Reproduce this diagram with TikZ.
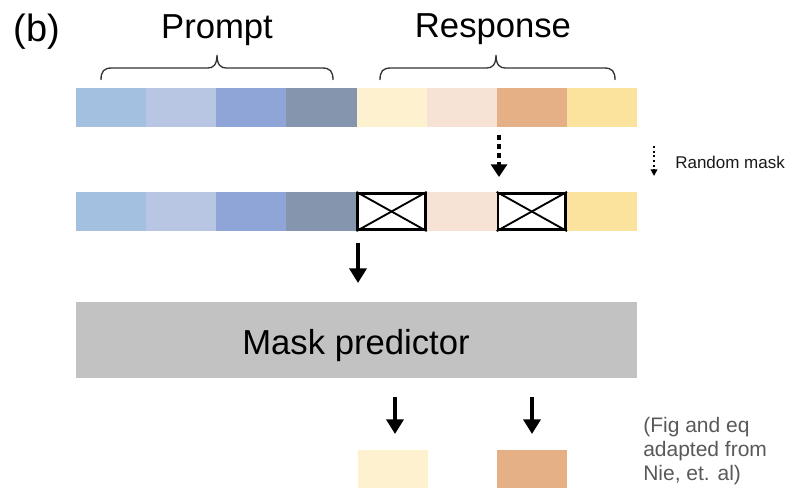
\documentclass[tikz,border=0pt]{standalone}
\usepackage{fontspec}
\setmainfont{Liberation Sans}
\usetikzlibrary{arrows.meta,calc}
\definecolor{pA}{HTML}{A3C0E1}
\definecolor{pB}{HTML}{B8C5E3}
\definecolor{pC}{HTML}{90A5D7}
\definecolor{pD}{HTML}{8695AE}
\definecolor{rA}{HTML}{FDF1D0}
\definecolor{rB}{HTML}{F7E3D6}
\definecolor{rC}{HTML}{E6B086}
\definecolor{rD}{HTML}{FBE29D}
\definecolor{mpgray}{HTML}{C2C2C2}
\definecolor{captgray}{HTML}{595959}
\definecolor{braceink}{HTML}{333333}
\tikzset{
  cell/.style={inner sep=0pt, minimum width=52.59pt, minimum height=29.25pt, draw=none},
  maskcell/.style={inner sep=0pt, minimum width=50.6pt, minimum height=27.3pt, fill=white, draw=black, line width=2.1pt},
  xline/.style={line width=1.4pt, black},
  arr/.style={line width=2.7pt, -{Triangle[width=12.75pt,length=11pt]}},
  dotarr/.style={line width=3pt, dash pattern=on 3.75pt off 3pt, -{Triangle[width=12pt,length=9.5pt]}},
  legarr/.style={line width=1.1pt, dash pattern=on 1.5pt off 2pt, -{Triangle[width=5pt,length=5pt]}},
  bracestyle/.style={line width=1pt, braceink},
  bigtext/.style={font=\fontsize{26pt}{30pt}\selectfont, text=black, inner sep=0pt},
}
\newcommand{\mybrace}[3]{%
  \draw[bracestyle] (#1,80) .. controls (#1,71) and (#1+3,68) .. (#1+11,68) -- (#3-9,68)
    .. controls (#3-4,68) and (#3,65) .. (#3,55)
    .. controls (#3,65) and (#3+4,68) .. (#3+9,68) -- (#2-11,68)
    .. controls (#2-3,68) and (#2,71) .. (#2,80);}
\begin{document}
\begin{tikzpicture}[x=0.75pt,y=-0.75pt]
\useasboundingbox (0,0) rectangle (785,488);

% title texts
\node[anchor=base, inner sep=0pt, font=\fontsize{28.5pt}{32pt}\selectfont] (btag) at (37,42) {(b)};
\node[bigtext, anchor=base] (prompt) at (217,39) {Prompt};
\node[bigtext, anchor=base] (response) at (493,38) {Response};

% braces
\mybrace{101}{333}{217}
\mybrace{380}{615}{496}

% row 1
\node[cell, fill=pA] (p1) at (111.06,107.5) {};
\node[cell, fill=pB] (p2) at (181.19,107.5) {};
\node[cell, fill=pC] (p3) at (251.31,107.5) {};
\node[cell, fill=pD] (p4) at (321.44,107.5) {};
\node[cell, fill=rA] (r1) at (391.56,107.5) {};
\node[cell, fill=rB] (r2) at (461.69,107.5) {};
\node[cell, fill=rC] (r3) at (531.81,107.5) {};
\node[cell, fill=rD] (r4) at (601.94,107.5) {};

% row 2
\node[cell, fill=pA] (q1) at (111.06,211.5) {};
\node[cell, fill=pB] (q2) at (181.19,211.5) {};
\node[cell, fill=pC] (q3) at (251.31,211.5) {};
\node[cell, fill=pD] (q4) at (321.44,211.5) {};
\node[maskcell] (s1) at (391.56,211.5) {};
\node[cell, fill=rB] (s2) at (461.69,211.5) {};
\node[maskcell] (s3) at (531.81,211.5) {};
\node[cell, fill=rD] (s4) at (601.94,211.5) {};
\draw[xline] (s1.north west) -- (s1.south east);
\draw[xline] (s1.south west) -- (s1.north east);
\draw[xline] (s3.north west) -- (s3.south east);
\draw[xline] (s3.south west) -- (s3.north east);

% random mask arrow
\coordinate (dmS) at (499,135);
\coordinate (dmE) at (499,177);
\draw[dotarr] (dmS) -- (dmE);

% legend
\coordinate (lgS) at (654,146);
\coordinate (lgE) at (654,176);
\draw[legarr] (lgS) -- (lgE);
\node[anchor=base west, inner sep=0pt, font=\fontsize{12.75pt}{15pt}\selectfont, text=black!90] (legtext) at (675,169) {Random mask};

% mask predictor
\node[inner sep=0pt, minimum width=420.75pt, minimum height=57pt, fill=mpgray] (mp) at (356.5,340) {};
\node[bigtext, anchor=base] (mptext) at (356,354) {Mask predictor};

\coordinate (a1S) at (358,243);
\coordinate (a1E) at (358,283);
\draw[arr] (a1S) -- (a1E);

% outputs
\coordinate (a2S) at (395,397);
\coordinate (a2E) at (395,434);
\draw[arr] (a2S) -- (a2E);
\coordinate (a3S) at (532,397);
\coordinate (a3E) at (532,434);
\draw[arr] (a3S) -- (a3E);

\node[cell, fill=rA, minimum height=28.5pt] (o1) at (393,469) {};
\node[cell, fill=rC, minimum height=28.5pt] (o2) at (532,469) {};

% caption
\node[anchor=base west, inner sep=0pt, text=captgray, font=\fontsize{15.75pt}{18pt}\selectfont] (capt) at (643,432)
  {\begin{tabular}[t]{@{}l@{}}(Fig and eq\\adapted from\\Nie, et. al)\end{tabular}};
\end{tikzpicture}
\end{document}
